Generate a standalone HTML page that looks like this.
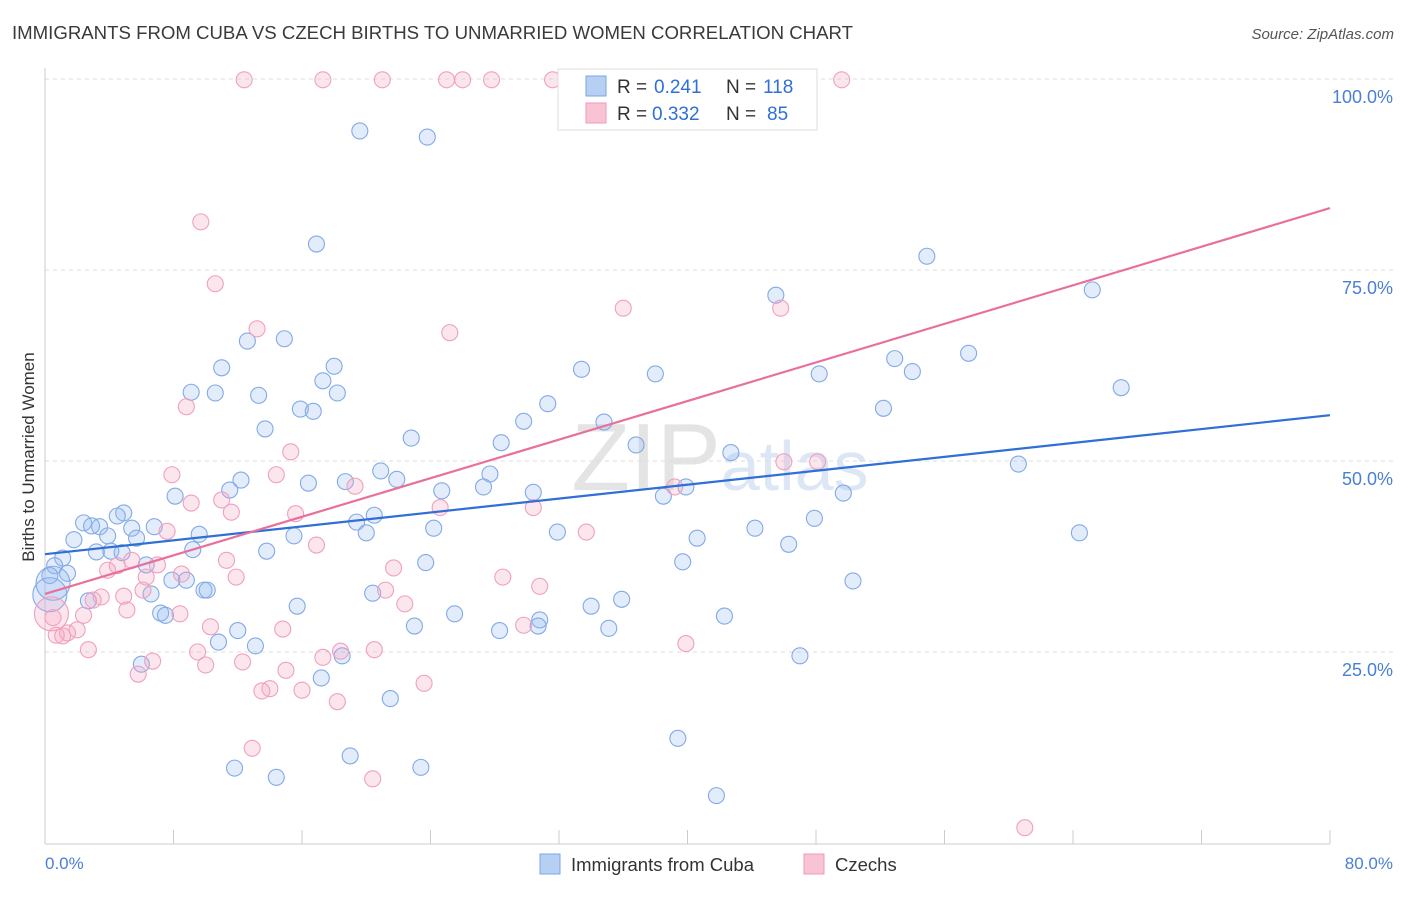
<!DOCTYPE html>
<html><head><meta charset="utf-8"><style>
body{margin:0;background:#fff;font-family:"Liberation Sans",sans-serif}
svg text{font-family:"Liberation Sans",sans-serif}
</style></head><body>
<svg id="chart" width="1406" height="892" xmlns="http://www.w3.org/2000/svg">
<text x="12" y="39" font-size="18.4" fill="#3a3a3a" textLength="841" lengthAdjust="spacingAndGlyphs">IMMIGRANTS FROM CUBA VS CZECH BIRTHS TO UNMARRIED WOMEN CORRELATION CHART</text>
<text x="1394" y="39" font-size="15" fill="#555" font-style="italic" text-anchor="end">Source: ZipAtlas.com</text>
<text x="720" y="490" font-size="96" fill="#e4e4e4" text-anchor="middle" font-family="Liberation Serif">ZIP<tspan fill="#dce6f5" font-family="Liberation Sans" font-size="70">atlas</tspan></text>
<g id="grid"></g>
<line x1="45" y1="68" x2="45" y2="844" stroke="#ccc"/>
<line x1="45" y1="844" x2="1330" y2="844" stroke="#ccc"/>
<g id="xticks"></g>
<text transform="translate(34,457) rotate(-90)" font-size="17" fill="#333" text-anchor="middle">Births to Unmarried Women</text>
<text x="45" y="869" font-size="17" fill="#4a7fd6">0.0%</text>
<text x="1393" y="869" font-size="17" fill="#4a7fd6" text-anchor="end">80.0%</text>
<g id="pts"></g>
<g id="lines"></g>
<g>
<rect x="558" y="69" width="259" height="61" fill="#fff" stroke="#ddd"/>
<rect x="586" y="76" width="20" height="20" fill="#b7cff2" stroke="#7aa6e6"/>
<rect x="586" y="103" width="20" height="20" fill="#f8c3d5" stroke="#f09ab8"/>
<text x="617" y="93" font-size="19" fill="#333">R =</text><text x="654" y="93" font-size="19" fill="#2f6fd6">0.241</text>
<text x="726" y="93" font-size="19" fill="#333">N =</text><text x="763" y="93" font-size="19" fill="#2f6fd6">118</text>
<text x="617" y="120" font-size="19" fill="#333">R =</text><text x="652" y="120" font-size="19" fill="#2f6fd6">0.332</text>
<text x="726" y="120" font-size="19" fill="#333">N =</text><text x="767" y="120" font-size="19" fill="#2f6fd6">85</text>
</g>
<g>
<rect x="540" y="854" width="20" height="20" fill="#b7cff2" stroke="#7aa6e6"/>
<text x="571" y="871" font-size="18.5" fill="#333">Immigrants from Cuba</text>
<rect x="804" y="854" width="20" height="20" fill="#f8c3d5" stroke="#f09ab8"/>
<text x="835" y="871" font-size="18.5" fill="#333">Czechs</text>
</g>
</svg>
<script>
const yTicks=[25,50,75,100];
const yTickLabels=["25.0%","50.0%","75.0%","100.0%"];
const xTicks=[0,8,16,24,32,40,48,56,64,72,80];
const cubaX=[19.6,23.8,16.9,54.9,45.5,65.2,12.6,14.9,18.0,11.0,33.4,38.0,48.2,52.9,54.0,57.5,67.0,17.3,9.1,10.6,13.3,18.2,31.3,15.9,16.7,52.2,29.8,34.8,13.7,22.8,28.4,36.8,42.7,60.6,20.9,21.9,27.7,12.2,16.4,18.7,11.5,24.7,27.3,30.4,39.9,38.5,49.7,8.1,4.9,4.5,20.5,19.4,2.4,3.4,2.9,5.4,6.8,24.2,20.0,47.9,44.2,64.4,31.9,15.5,9.6,1.8,3.9,5.7,40.6,46.3,13.8,9.2,3.2,4.1,4.8,1.1,0.6,6.3,23.7,39.7,1.4,0.3,7.9,8.8,50.3,9.9,10.1,6.6,20.4,35.9,2.7,15.7,34.0,7.2,7.5,25.5,30.8,42.3,30.7,23.0,35.1,28.3,12.0,10.8,13.1,18.5,47.0,6.0,17.2,21.5,39.4,19.0,11.8,23.4,14.4,41.8,0.3,0.5];
const cubaY=[93.2,92.4,78.4,76.8,71.7,72.4,65.7,66.0,62.4,62.2,62.0,61.4,61.4,63.4,61.7,64.1,59.6,60.5,59.0,58.9,58.6,58.9,57.5,56.8,56.5,56.9,55.2,55.1,54.2,53.0,52.4,52.1,51.1,49.6,48.7,47.6,48.3,47.5,47.1,47.3,46.2,46.1,46.6,45.9,46.6,45.4,45.8,45.4,43.2,42.8,42.9,42.0,41.9,41.4,41.5,41.2,41.4,41.2,40.6,42.5,41.2,40.6,40.7,40.2,40.4,39.7,40.2,39.9,39.9,39.1,38.2,38.4,38.1,38.2,38.0,37.3,36.3,36.4,36.7,36.8,35.3,35.0,34.4,34.4,34.3,33.1,33.1,32.6,32.7,31.9,31.7,31.0,31.0,30.1,29.8,30.0,29.2,29.7,28.4,28.4,28.1,27.8,27.8,26.3,25.8,24.5,24.5,23.4,21.6,18.9,13.7,11.4,9.8,9.9,8.6,6.2,32.5,34.0];
const cubaR=cubaX.map((v,i)=>i>=cubaX.length-2?1:0);
const czX=[12.4,17.3,21.0,25.0,26.0,27.8,31.6,33.3,49.6,9.7,10.6,13.2,25.2,36.0,45.8,8.8,15.3,46.0,48.1,7.9,14.4,19.3,39.2,9.1,11.0,11.6,15.6,24.6,30.4,7.6,33.7,16.9,11.3,5.4,7.0,21.7,3.9,4.5,8.5,11.9,6.3,28.5,30.8,21.2,6.1,3.5,4.9,3.0,22.4,5.1,8.4,2.4,0.5,10.3,14.8,29.8,2.0,1.4,1.1,0.7,2.7,9.5,18.4,20.5,39.9,17.3,6.7,12.3,10.0,15.0,5.8,23.6,14.0,13.5,16.0,18.2,12.9,20.4,61.0,0.4];
const czY=[99.9,99.9,99.9,99.9,99.9,99.9,99.9,99.9,99.9,81.3,73.2,67.3,66.8,70.0,70.0,57.1,51.2,49.9,49.9,48.2,48.2,46.7,46.6,44.5,44.9,43.3,43.1,43.9,43.9,40.8,40.7,39.0,37.0,37.0,36.4,36.0,35.7,36.3,35.2,34.8,34.8,34.8,33.6,33.1,33.1,32.2,32.3,31.8,31.3,30.5,30.0,29.8,29.5,28.3,28.0,28.5,27.9,27.5,27.1,27.2,25.3,25.0,25.1,25.3,26.1,24.3,23.8,23.7,23.3,22.6,22.1,20.9,20.2,19.9,20.0,18.5,12.4,8.4,2.0,30.0];
const czR=czX.map((v,i)=>i===czX.length-1?1:0);
const cubaLine=[37.8,56.0];
const czLine=[32.6,83.1];
const NS="http://www.w3.org/2000/svg";
const X=v=>45+v/80*1285;
const Y=v=>843-v/100*764;
const grid=document.getElementById('grid');
yTicks.forEach((t,i)=>{
 const l=document.createElementNS(NS,'line');
 
 
 l.setAttribute('x1',45);l.setAttribute('x2',1394);l.setAttribute('y1',Y(t));l.setAttribute('y2',Y(t));
 l.setAttribute('stroke','#ddd');l.setAttribute('stroke-dasharray','4,4');grid.appendChild(l);
 const tx=document.createElementNS(NS,'text');
 
 
 tx.setAttribute('x',1393);tx.setAttribute('y',Y(t)+24);tx.setAttribute('text-anchor','end');
 tx.setAttribute('font-size','18');tx.setAttribute('fill','#4a7fd6');tx.textContent=yTickLabels[i];grid.appendChild(tx);
});
const xt=document.getElementById('xticks');
xTicks.forEach(t=>{
 const l=document.createElementNS(NS,'line');
 
 
 l.setAttribute('x1',X(t));l.setAttribute('x2',X(t));l.setAttribute('y1',830);l.setAttribute('y2',844);
 l.setAttribute('stroke','#ccc');xt.appendChild(l);
});
const pts=document.getElementById('pts');
function dots(xs,ys,rs,fill,stroke,name){
 xs.forEach((x,i)=>{
  const c=document.createElementNS(NS,'circle');
  
  
  c.setAttribute('cx',X(x));c.setAttribute('cy',Y(ys[i]));c.setAttribute('r',rs[i]?17:8);
  c.setAttribute('fill',fill);c.setAttribute('stroke',stroke);c.setAttribute('stroke-width','1.1');
  pts.appendChild(c);
 });
}
dots(cubaX,cubaY,cubaR,'rgba(150,185,240,0.28)','#82aae6','cuba-point');
dots(czX,czY,czR,'rgba(245,165,195,0.28)','#f0a0bd','czech-point');
const lg=document.getElementById('lines');
function tl(v,col,name){
 const l=document.createElementNS(NS,'line');
 
 
 l.setAttribute('x1',X(0));l.setAttribute('y1',Y(v[0]));l.setAttribute('x2',X(80));l.setAttribute('y2',Y(v[1]));
 l.setAttribute('stroke',col);l.setAttribute('stroke-width','2.2');lg.appendChild(l);
}
tl(cubaLine,'#2f6fd6','cuba-trend-line');
tl(czLine,'#e8709a','czech-trend-line');
</script>
</body></html>
